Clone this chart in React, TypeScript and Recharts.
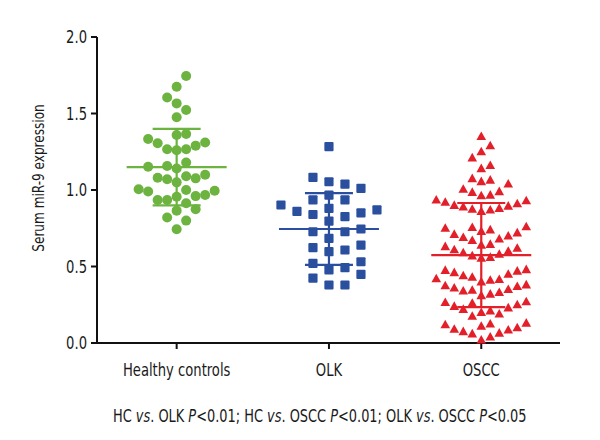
import { ErrorBar, Scatter, ScatterChart, XAxis, YAxis } from 'recharts';

const groups = ['Healthy controls', 'OLK', 'OSCC'];

const hcValues = [
  1.745, 1.675, 1.605, 1.566, 1.523, 1.475, 1.36, 1.366, 1.333, 1.31, 1.305, 1.29, 1.266, 1.26,
  1.266, 1.157, 1.152, 1.18, 1.14, 1.09, 1.076, 1.05, 1.1, 1.07, 1.08, 0.99, 0.967, 0.935, 0.913,
  1.0, 1.005, 0.935, 0.956, 0.96, 0.995, 0.874, 0.865, 0.82, 0.8, 0.743,
];

const olkValues = [
  1.283, 1.083, 1.054, 1.039, 1.011, 0.967, 0.935, 0.935, 0.902, 0.88, 0.87, 0.86, 0.85, 0.84,
  0.826, 0.797, 0.745, 0.727, 0.727, 0.684, 0.64, 0.623, 0.608, 0.597, 0.531, 0.521, 0.492,
  0.477, 0.449, 0.424, 0.379, 0.379,
];

const osccValues = [
  1.35, 1.29, 1.25, 1.21, 1.16, 1.14, 1.075, 1.065, 1.055, 1.04, 1.005, 0.99, 0.985, 0.967, 0.963,
  0.935, 0.93, 0.92, 0.91, 0.9, 0.895, 0.89, 0.88, 0.875, 0.87, 0.86,
  0.76, 0.755, 0.75, 0.74, 0.73, 0.72, 0.71, 0.7, 0.69, 0.68, 0.67,
  0.645, 0.64, 0.63, 0.62, 0.61, 0.6, 0.59, 0.58, 0.57, 0.56, 0.555,
  0.48, 0.475, 0.47, 0.46, 0.45, 0.44, 0.43, 0.42, 0.415, 0.41, 0.4,
  0.38, 0.375, 0.37, 0.36, 0.35, 0.345, 0.34, 0.33, 0.32, 0.31,
  0.27, 0.265, 0.26, 0.25, 0.24, 0.23, 0.22, 0.21, 0.2, 0.19, 0.175,
  0.13, 0.125, 0.12, 0.11, 0.1, 0.09, 0.085, 0.075, 0.065, 0.06,
  0.04, 0.02,
];

const groupMeans = [1.15, 0.745, 0.575];
const groupSds = [0.25, 0.235, 0.34];
const yTicks = [0, 0.5, 1.0, 1.5, 2.0];

const GREEN = '#6cb33f';
const BLUE = '#2a4f9e';
const RED = '#e3202a';
const FONT = '"DejaVu Sans Condensed", "Liberation Sans Narrow", sans-serif';
const SQUEEZE = 0.86;

// plot box (page px) and x domain, used to lay the swarm out in screen space
const PLOT = { left: 97, top: 37, width: 463, height: 306 };
const X_DOMAIN: [number, number] = [0.477, 3.517];
const PX_X = PLOT.width / (X_DOMAIN[1] - X_DOMAIN[0]);
const PX_Y = PLOT.height / 2;

// greedy row-style swarm: points closer than sy vertically must sit sx apart sideways,
// lowest values take the middle so each row fans out into a V like Prism does
function swarm(values: number[], group: number, sx: number, sy: number) {
  const sorted = [...values].sort((a, b) => a - b);
  const placed: { x: number; y: number }[] = [];
  return sorted.map((v) => {
    const y = v * PX_Y;
    const near = placed.filter((p) => Math.abs(p.y - y) < sy);
    const cands = [0];
    near.forEach((p) => cands.push(p.x - sx, p.x + sx));
    cands.sort((a, b) => Math.abs(a) - Math.abs(b) || b - a);
    const x = cands.find((c) => near.every((p) => Math.abs(p.x - c) >= sx - 1e-6)) ?? 0;
    placed.push({ x, y });
    return { x: group + x / PX_X, y: v };
  });
}

const hcPoints = swarm(hcValues, 1, 9.5, 13);
const olkPoints = swarm(olkValues, 2, 16, 12);
const osccPoints = swarm(osccValues, 3, 9, 13);

const circle = (p: any) => <circle cx={p.cx} cy={p.cy} r={5} fill={GREEN} />;
const square = (p: any) => <rect x={p.cx - 4.6} y={p.cy - 4.6} width={9.2} height={9.2} rx={1} fill={BLUE} />;
const triangle = (p: any) => (
  <polygon points={`${p.cx},${p.cy - 5} ${p.cx + 4.8},${p.cy + 3.6} ${p.cx - 4.8},${p.cy + 3.6}`} fill={RED} />
);

const meanLine = (color: string) => (p: any) => (
  <line x1={p.cx - 50} x2={p.cx + 50} y1={p.cy} y2={p.cy} stroke={color} strokeWidth={2.2} />
);

const colors = [GREEN, BLUE, RED];

const XTick = (p: any) => (
  <g transform={`translate(${p.x},${p.y})`}>
    <text transform={`scale(${SQUEEZE},1)`} textAnchor="middle" dy="0.71em" fill="#1a1a1a" fontSize={17} fontFamily={FONT}>
      {groups[p.payload.value - 1]}
    </text>
  </g>
);

const YTick = (p: any) => (
  <g transform={`translate(${p.x},${p.y})`}>
    <text transform={`scale(${SQUEEZE},1)`} textAnchor="end" dy="0.36em" fill="#1a1a1a" fontSize={17} fontFamily={FONT}>
      {p.payload.value.toFixed(1)}
    </text>
  </g>
);

export default function App() {
  return (
    <div style={{ position: 'absolute', left: 0, top: 0, width: 600, height: 440, background: '#fff', fontFamily: FONT }}>
      <ScatterChart width={600} height={440} margin={{ top: PLOT.top, right: 40, bottom: 57, left: 37 }}>
        <XAxis
          type="number"
          dataKey="x"
          domain={X_DOMAIN}
          allowDataOverflow
          ticks={[1, 2, 3]}
          height={40}
          tickSize={6}
          tickMargin={15}
          axisLine={{ stroke: '#111', strokeWidth: 2 }}
          tickLine={{ stroke: '#111', strokeWidth: 2 }}
          tick={XTick}
        />
        <YAxis
          type="number"
          dataKey="y"
          domain={[0, 2]}
          ticks={yTicks}
          width={60}
          tickSize={6}
          tickMargin={4}
          axisLine={{ stroke: '#111', strokeWidth: 2 }}
          tickLine={{ stroke: '#111', strokeWidth: 2 }}
          tick={YTick}
        />
        <Scatter data={hcPoints} shape={circle} isAnimationActive={false} />
        <Scatter data={olkPoints} shape={square} isAnimationActive={false} />
        <Scatter data={osccPoints} shape={triangle} isAnimationActive={false} />
        {groups.map((g, i) => (
          <Scatter
            key={g}
            data={[{ x: i + 1, y: groupMeans[i], sd: groupSds[i] }]}
            shape={meanLine(colors[i])}
            isAnimationActive={false}
          >
            <ErrorBar dataKey="sd" direction="y" width={24} stroke={colors[i]} strokeWidth={2.2} isAnimationActive={false} />
          </Scatter>
        ))}
      </ScatterChart>
      <div
        style={{
          position: 'absolute',
          left: 38,
          top: 178,
          transform: 'translate(-50%, -50%) rotate(-90deg) scale(0.84, 1)',
          whiteSpace: 'nowrap',
          fontSize: 16,
          color: '#1a1a1a',
        }}
      >
        Serum miR-9 expression
      </div>
      <div
        style={{
          position: 'absolute',
          left: 0,
          width: 640,
          top: 406,
          textAlign: 'center',
          whiteSpace: 'nowrap',
          fontSize: 17,
          color: '#1a1a1a',
        }}
      >
        <span style={{ display: 'inline-block', transform: 'scale(0.845, 1)', transformOrigin: '50% 50%' }}>
          HC <i>vs</i>. OLK <i>P</i>&lt;0.01; HC <i>vs</i>. OSCC <i>P</i>&lt;0.01; OLK <i>vs</i>. OSCC <i>P</i>&lt;0.05
        </span>
      </div>
    </div>
  );
}
